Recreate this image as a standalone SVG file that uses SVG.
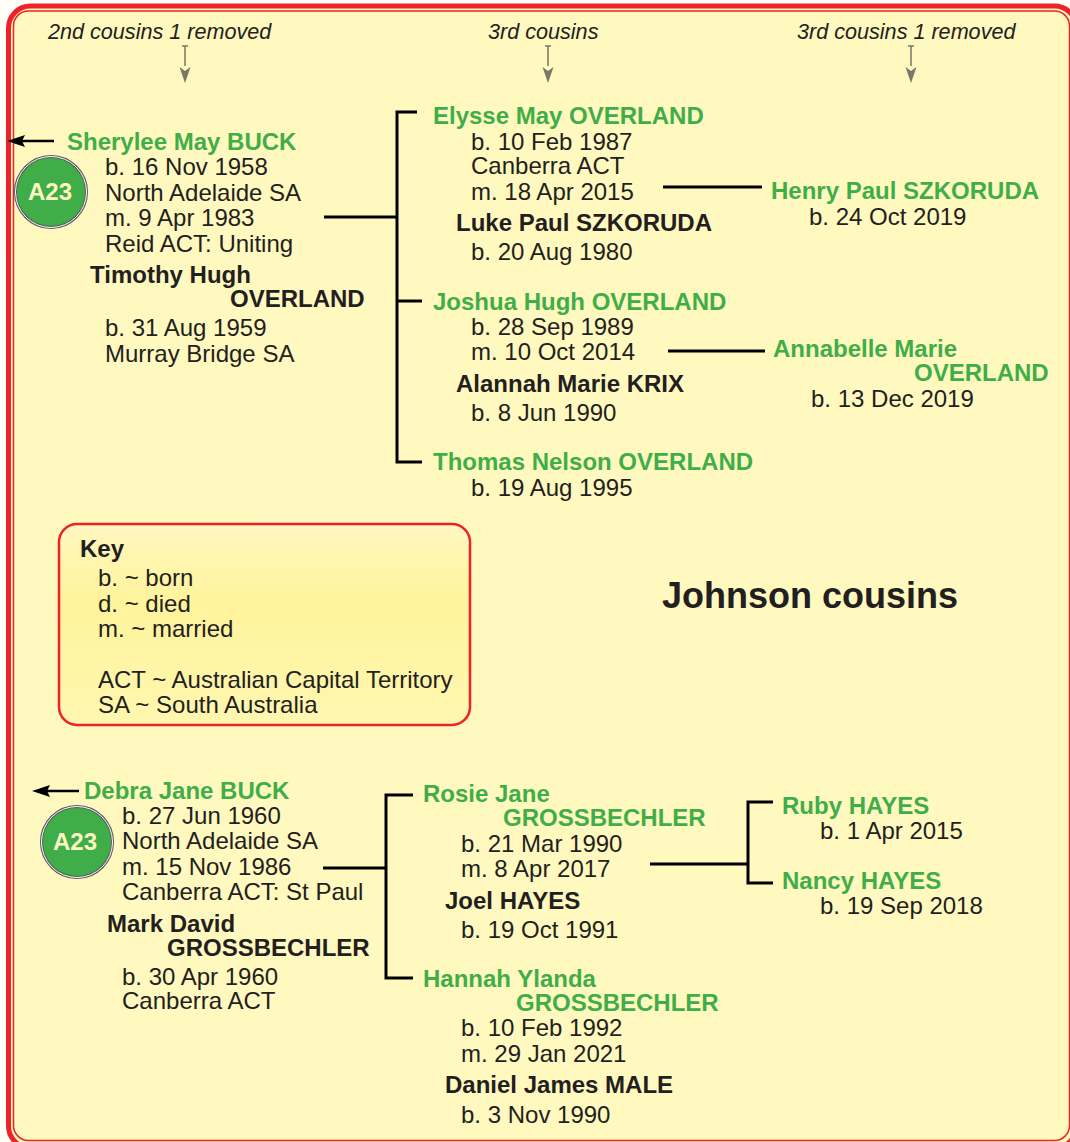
<svg xmlns="http://www.w3.org/2000/svg" width="1070" height="1142" viewBox="0 0 1070 1142">
<style>
text{font-family:"Liberation Sans",Arial,sans-serif;font-size:24px;fill:#231f20}
.n{font-weight:bold;fill:#3fae49}
.s{font-weight:bold}
.h{font-style:italic;font-size:21.6px}
.l{fill:none;stroke:#000;stroke-width:3}
.g{fill:none;stroke:#77776a;stroke-width:1.5}
.bd{fill:#3fae49;stroke:#58595b;stroke-width:3}
.bi{fill:none;stroke:#fff;stroke-width:1}
.bt{font-weight:bold;fill:#fff7c2;text-anchor:middle}
</style>
<defs>
<linearGradient id="k" x1="0" y1="0" x2="0" y2="1"><stop offset="0" stop-color="#fff7c0"/><stop offset=".4" stop-color="#fff39b"/><stop offset="1" stop-color="#fff7b0"/></linearGradient>
<marker id="ga" markerUnits="userSpaceOnUse" markerWidth="12" markerHeight="16" refX="6" refY="16" orient="auto-start-reverse" viewBox="0 0 12 16"><path d="M0 0L6 4L12 0L6 16Z" fill="#77776a" transform="rotate(0)"/></marker>
</defs>
<rect width="1070" height="1142" fill="#fffef8"/>
<g id="frame">
<rect x="8.5" y="6" width="1068" height="1142" rx="22" fill="#fff8bf" stroke="#ee2229" stroke-width="5"/>
<rect x="13.5" y="11" width="1056" height="1129.500" rx="15" fill="#fff8bf" stroke="#ee2229" stroke-width="1.500"/>
</g>
<g id="connectors">
<path class="l" d="M324 217H397M417 112H397V462H422M397 301H422M663 187H762M668 351H765"/>
<path class="l" d="M323 868H386M413 795H386V978H413M650 864H748M773 802H748V883H773"/>
<path class="l" d="M54 141H22M55 790H46" style="display:none"/>
<path d="M185 46V66M182 46H188M548 46V66M545 46H551M911 46V66M908 46H914" class="g"/>
<path d="M179.500 67L185 71L190.500 67L185 83ZM542.500 67L548 71L553.500 67L548 83ZM905.500 67L911 71L916.500 67L911 83Z" fill="#77776a"/>
<path d="M54 141H20" stroke="#000" stroke-width="2.500"/>
<path d="M7 141L25 135L22 141L25 147Z" fill="#000"/>
<path d="M79 791H45" stroke="#000" stroke-width="2.500"/>
<path d="M32 791L50 785L47 791L50 797Z" fill="#000"/>
</g>
<g id="headers">
<text class="h" x="48" y="39">2nd cousins 1 removed</text>
<text class="h" x="488" y="39">3rd cousins</text>
<text class="h" x="797" y="39">3rd cousins 1 removed</text>
</g>
<g id="sherylee">
<circle class="bd" cx="51" cy="192" r="35.500"/><circle class="bi" cx="51" cy="192" r="35.500"/>
<text class="bt" x="50" y="200">A23</text>
<text class="n" x="67" y="150">Sherylee May BUCK</text>
<text x="105" y="175">b. 16 Nov 1958</text>
<text x="105" y="201">North Adelaide SA</text>
<text x="105" y="226">m. 9 Apr 1983</text>
<text x="105" y="252">Reid ACT: Uniting</text>
<text class="s" x="90" y="283">Timothy Hugh</text>
<text class="s" x="230" y="307">OVERLAND</text>
<text x="105" y="336">b. 31 Aug 1959</text>
<text x="105" y="362">Murray Bridge SA</text>
</g>
<g id="elysse">
<text class="n" x="433" y="124">Elysse May OVERLAND</text>
<text x="471" y="150">b. 10 Feb 1987</text>
<text x="471" y="174">Canberra ACT</text>
<text x="471" y="200">m. 18 Apr 2015</text>
<text class="s" x="456" y="231">Luke Paul SZKORUDA</text>
<text x="471" y="260">b. 20 Aug 1980</text>
</g>
<g id="henry">
<text class="n" x="771" y="199">Henry Paul SZKORUDA</text>
<text x="809" y="225">b. 24 Oct 2019</text>
</g>
<g id="joshua">
<text class="n" x="433" y="310">Joshua Hugh OVERLAND</text>
<text x="471" y="335">b. 28 Sep 1989</text>
<text x="471" y="360">m. 10 Oct 2014</text>
<text class="s" x="456" y="392">Alannah Marie KRIX</text>
<text x="471" y="421">b. 8 Jun 1990</text>
</g>
<g id="annabelle">
<text class="n" x="773" y="357">Annabelle Marie</text>
<text class="n" x="914" y="381">OVERLAND</text>
<text x="811" y="407">b. 13 Dec 2019</text>
</g>
<g id="thomas">
<text class="n" x="433" y="470">Thomas Nelson OVERLAND</text>
<text x="471" y="496">b. 19 Aug 1995</text>
</g>
<g id="key">
<rect x="59" y="524" width="411" height="201" rx="18" fill="url(#k)" stroke="#ee2229" stroke-width="2.500"/>
<text class="s" x="80" y="557">Key</text>
<text x="98" y="586">b. ~ born</text>
<text x="98" y="612">d. ~ died</text>
<text x="98" y="637">m. ~ married</text>
<text x="98" y="688">ACT ~ Australian Capital Territory</text>
<text x="98" y="713">SA ~ South Australia</text>
</g>
<g id="title"><text x="662" y="608" style="font-weight:bold;font-size:36px">Johnson cousins</text></g>
<g id="debra">
<circle class="bd" cx="77" cy="842" r="35.500"/><circle class="bi" cx="77" cy="842" r="35.500"/>
<text class="bt" x="75" y="850">A23</text>
<text class="n" x="84" y="799">Debra Jane BUCK</text>
<text x="122" y="824">b. 27 Jun 1960</text>
<text x="122" y="849">North Adelaide SA</text>
<text x="122" y="875">m. 15 Nov 1986</text>
<text x="122" y="900">Canberra ACT: St Paul</text>
<text class="s" x="107" y="932">Mark David</text>
<text class="s" x="167" y="956">GROSSBECHLER</text>
<text x="122" y="985">b. 30 Apr 1960</text>
<text x="122" y="1009">Canberra ACT</text>
</g>
<g id="rosie">
<text class="n" x="423" y="802">Rosie Jane</text>
<text class="n" x="503" y="826">GROSSBECHLER</text>
<text x="461" y="852">b. 21 Mar 1990</text>
<text x="461" y="877">m. 8 Apr 2017</text>
<text class="s" x="445" y="909">Joel HAYES</text>
<text x="461" y="938">b. 19 Oct 1991</text>
</g>
<g id="ruby">
<text class="n" x="782" y="814">Ruby HAYES</text>
<text x="820" y="839">b. 1 Apr 2015</text>
</g>
<g id="nancy">
<text class="n" x="782" y="889">Nancy HAYES</text>
<text x="820" y="914">b. 19 Sep 2018</text>
</g>
<g id="hannah">
<text class="n" x="423" y="987">Hannah Ylanda</text>
<text class="n" x="516" y="1011">GROSSBECHLER</text>
<text x="461" y="1036">b. 10 Feb 1992</text>
<text x="461" y="1062">m. 29 Jan 2021</text>
<text class="s" x="445" y="1093">Daniel James MALE</text>
<text x="461" y="1123">b. 3 Nov 1990</text>
</g>
</svg>
